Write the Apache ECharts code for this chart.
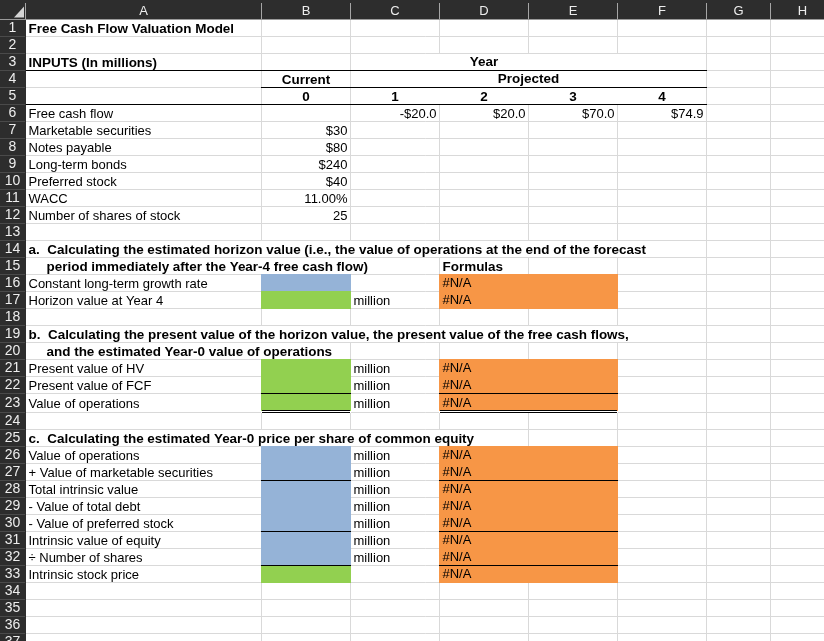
<!DOCTYPE html>
<html>
<head>
<meta charset="utf-8">
<style>html,body{margin:0;padding:0;background:#fff;overflow:hidden}#chart{width:824px;height:641px}</style>
<script src="https://cdn.jsdelivr.net/npm/echarts@6/dist/echarts.min.js"></script>
</head>
<body>
<div id="chart"></div>
<script>
// ---------- content ----------
const columnLetters = ['A','B','C','D','E','F','G','H'];
const rowNumbers = ['1','2','3','4','5','6','7','8','9','10','11','12','13','14','15','16','17','18','19','20','21','22','23','24','25','26','27','28','29','30','31','32','33','34','35','36','37'];
const inputLabels = ['Free cash flow','Marketable securities','Notes payable','Long-term bonds','Preferred stock','WACC','Number of shares of stock'];
const inputValues = ['$30','$80','$240','$40','11.00%','25'];
const forecastYears = ['0','1','2','3','4'];
const freeCashFlows = ['-$20.0','$20.0','$70.0','$74.9'];
const horizonLabels = ['Constant long-term growth rate','Horizon value at Year 4'];
const presentLabels = ['Present value of HV','Present value of FCF','Value of operations'];
const priceLabels = ['Value of operations','+ Value of marketable securities','Total intrinsic value','- Value of total debt','- Value of preferred stock','Intrinsic value of equity','\u00F7 Number of shares','Intrinsic stock price'];
const headingA = ['a.  Calculating the estimated horizon value (i.e., the value of operations at the end of the forecast','period immediately after the Year-4 free cash flow)'];
const headingB = ['b.  Calculating the present value of the horizon value, the present value of the free cash flows,','and the estimated Year-0 value of operations'];
const headingC = 'c.  Calculating the estimated Year-0 price per share of common equity';
const naText = '#N/A';
const unitText = 'million';

// ---------- layout ----------
const colWidths = [236,89,89,89,89,89,64,64];
const rowHeights = rowNumbers.map((_, i) => i + 1 === 23 ? 19 : 17);
const X0 = 25.5, Y0 = 19.5;
const colEdge = [X0]; colWidths.forEach(w => colEdge.push(colEdge[colEdge.length-1] + w));
const rowEdge = [Y0]; rowHeights.forEach(h => rowEdge.push(rowEdge[rowEdge.length-1] + h));
const BLUE='#95B3D7', GREEN='#92D050', ORANGE='#F79646', GRID='#D9D9D9', HEAD='#2D2D2D';
const FONT='"Liberation Sans", Arial, sans-serif', FS=13, FSB=13.46;

// fills: [colFrom, colTo, rowFrom, rowTo, colour] (1-based rows, 0-based columns)
const fills = [
 [1,1,16,16,BLUE],[1,1,17,17,GREEN],[1,1,21,23,GREEN],[1,1,26,32,BLUE],[1,1,33,33,GREEN],
 [3,4,16,17,ORANGE],[3,4,21,23,ORANGE],[3,4,26,33,ORANGE]
];
// black rules: [colFrom, colTo, row whose bottom carries it]
const rules = [[0,5,3],[1,5,4],[0,5,5],[1,1,22],[3,4,22],[1,1,27],[3,4,27],[1,1,30],[3,4,30],[1,1,32],[3,4,32]];
const doubleRules = [[1,1,23],[3,4,23]];
// vertical gridlines suppressed by overflowing/centred text: row -> list of column-boundary indexes
const hidden = {3:[3,4,5],4:[3,4,5],5:[3,4,5],14:[1,2,3,4,5],15:[1,2],19:[1,2,3,4,5],20:[1],25:[1,2,3]};

// ---------- text cells: [colFrom, colTo, row, text, align, bold, indent, dy] ----------
const texts = [];
const put = (c0,c1,r,t,a,b,ind,dy) => texts.push([c0,c1,r,t,a||'left',b?1:0,ind||0,dy===undefined?1:dy]);
put(0,0,1,'Free Cash Flow Valuation Model','left',1);
put(0,0,3,'INPUTS (In millions)','left',1);
put(1,5,3,'Year','center',1,0,0);
put(1,1,4,'Current','center',1);
put(2,5,4,'Projected','center',1,0,0);
forecastYears.forEach((y,i)=>put(1+i,1+i,5,y,'center',1));
inputLabels.forEach((t,i)=>put(0,0,6+i,t));
freeCashFlows.forEach((v,i)=>put(2+i,2+i,6,v,'right'));
inputValues.forEach((v,i)=>put(1,1,7+i,v,'right'));
put(0,0,14,headingA[0],'left',1); put(0,0,15,headingA[1],'left',1,18);
put(3,3,15,'Formulas','left',1);
horizonLabels.forEach((t,i)=>{put(0,0,16+i,t);put(3,3,16+i,naText,'left',0,0,0);});
put(2,2,17,unitText);
put(0,0,19,headingB[0],'left',1); put(0,0,20,headingB[1],'left',1,18);
presentLabels.forEach((t,i)=>{put(0,0,21+i,t);put(2,2,21+i,unitText);put(3,3,21+i,naText,'left',0,0,0);});
put(0,0,25,headingC,'left',1);
priceLabels.forEach((t,i)=>{put(0,0,26+i,t);put(3,3,26+i,naText,'left',0,0,0);if(i<7)put(2,2,26+i,unitText);});

// ---------- grid segments ----------
const gridSegs = [];
rowEdge.forEach(y => gridSegs.push([X0,y,850,y]));
colEdge.forEach((x,ci) => {
  if (ci === 0) return;
  rowNumbers.forEach((_,ri) => {
    const r = ri + 1;
    if ((hidden[r]||[]).includes(ci)) return;
    gridSegs.push([x,rowEdge[ri],x,rowEdge[ri+1]]);
  });
});
const line = (api,seg,color) => {
  const a = api.coord([seg[0],seg[1]]), b = api.coord([seg[2],seg[3]]);
  return {type:'line',shape:{x1:a[0],y1:a[1],x2:b[0],y2:b[1]},style:{stroke:color,lineWidth:1}};
};
const rect = (api,x0,y0,x1,y1,color) => {
  const a = api.coord([x0,y0]), b = api.coord([x1,y1]);
  return {type:'rect',shape:{x:a[0],y:a[1],width:b[0]-a[0],height:b[1]-a[1]},style:{fill:color}};
};
const dummy = arr => arr.map((_,i)=>[i,0]);

// rule segments
const ruleSegs = rules.map(r => [colEdge[r[0]]-0.5,rowEdge[r[2]],colEdge[r[1]+1]+0.5,rowEdge[r[2]]]);

const series = [
 {type:'custom',name:'gridlines',coordinateSystem:'cartesian2d',silent:true,z:1,clip:false,data:dummy(gridSegs),
  renderItem:(p,api)=>line(api,gridSegs[api.value(0)],GRID)},
 {type:'custom',name:'fills',coordinateSystem:'cartesian2d',silent:true,z:2,clip:false,data:dummy(fills),
  renderItem:(p,api)=>{const f=fills[api.value(0)];
    return rect(api,colEdge[f[0]]-0.5,rowEdge[f[2]-1]-0.5,colEdge[f[1]+1]+0.5,rowEdge[f[3]]+0.5,f[4]);}},
 {type:'custom',name:'doubles',coordinateSystem:'cartesian2d',silent:true,z:3,clip:false,data:dummy(doubleRules),
  renderItem:(p,api)=>{const d=doubleRules[api.value(0)],x0=colEdge[d[0]]+0.5,x1=colEdge[d[1]+1]-0.5,y=rowEdge[d[2]];
    return {type:'group',children:[
      line(api,[colEdge[d[0]]-0.5,y-1,colEdge[d[1]+1]+0.5,y-1],'#FFFFFF'),
      line(api,[colEdge[d[0]]-0.5,y,colEdge[d[1]+1]+0.5,y],'#FFFFFF'),
      line(api,[x0,y-2,x1,y-2],'#000000'),
      line(api,[x0,y,x1,y],'#000000')]};}},
 {type:'custom',name:'rules',coordinateSystem:'cartesian2d',silent:true,z:3,clip:false,data:dummy(ruleSegs),
  renderItem:(p,api)=>line(api,ruleSegs[api.value(0)],'#000000')},
 {type:'custom',name:'cellText',coordinateSystem:'cartesian2d',silent:true,z:4,clip:false,data:dummy(texts),
  renderItem:(p,api)=>{const t=texts[api.value(0)];
    const l=colEdge[t[0]],r=colEdge[t[1]+1];
    const xv=t[4]==='left'?l+3+t[6]:t[4]==='right'?r-3:(l+r)/2;
    const yv=(rowEdge[t[2]-1]+rowEdge[t[2]])/2+t[7];
    const c=api.coord([xv,yv]);
    return {type:'text',x:c[0],y:c[1],style:{text:t[3],fill:'#000000',align:t[4],verticalAlign:'middle',
      font:(t[5]?'bold '+FSB:FS)+'px '+FONT}};}},
 {type:'custom',name:'headerBands',coordinateSystem:'cartesian2d',silent:true,z:5,clip:false,data:[[0,0]],
  renderItem:(p,api)=>{
    const kids=[rect(api,0,0,824,19,HEAD),rect(api,0,0,26,641,HEAD)];
    const a=api.coord([14,17.5]),b=api.coord([24,17.5]),c=api.coord([24,6.5]);
    kids.push({type:'polygon',shape:{points:[a,b,c]},style:{fill:'#D4D4D4'}});
    kids.push(line(api,[0,19.5,824,19.5],'#9A9A9A'));
    colEdge.forEach(x=>kids.push(line(api,[x,3,x,19],'#A6A6A6')));
    rowEdge.forEach((y,i)=>{if(i>0)kids.push(line(api,[0,y,25,y],'#4A4A4A'));});
    return {type:'group',children:kids};}},
 {type:'custom',name:'columnHeaders',coordinateSystem:'cartesian2d',silent:true,z:6,clip:false,data:dummy(columnLetters),
  renderItem:(p,api)=>{const i=api.value(0);
    const c=api.coord([(colEdge[i]+colEdge[i+1])/2,11.5]);
    return {type:'text',x:c[0],y:c[1],style:{text:columnLetters[i],fill:'#EDEDED',align:'center',verticalAlign:'middle',font:'13px '+FONT}};}},
 {type:'custom',name:'rowHeaders',coordinateSystem:'cartesian2d',silent:true,z:6,clip:false,data:dummy(rowNumbers),
  renderItem:(p,api)=>{const i=api.value(0);
    const c=api.coord([12.5,(rowEdge[i]+rowEdge[i+1])/2+0.5]);
    return {type:'text',x:c[0],y:c[1],style:{text:rowNumbers[i],fill:'#EDEDED',align:'center',verticalAlign:'middle',font:'14px '+FONT}};}}
];

const chart = echarts.init(document.getElementById('chart'),null,{renderer:'canvas',width:824,height:641});
chart.setOption({
  animation:false,
  backgroundColor:'#FFFFFF',
  grid:{left:0,right:0,top:0,bottom:0,containLabel:false},
  xAxis:{type:'value',min:0,max:824,show:false},
  yAxis:{type:'value',min:0,max:641,inverse:true,show:false},
  series
});
</script>
</body>
</html>
